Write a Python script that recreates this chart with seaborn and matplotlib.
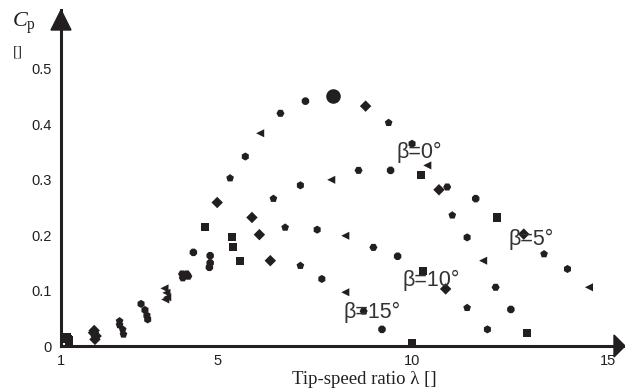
import matplotlib
matplotlib.use("Agg")
import matplotlib.pyplot as plt
import seaborn as sns
import pandas as pd
from matplotlib.patches import Polygon

# ---------------- data ----------------
lam_b0 = [1.15, 1.85, 2.50, 3.05, 3.65, 4.10, 4.39, 4.69, 5.00, 5.33, 5.72, 6.10, 6.62,
          7.26, 7.97, 8.80, 9.39, 9.99, 10.38, 10.89, 11.62, 12.17, 12.85, 13.37, 13.97, 14.52]
cp_b0 = [0.016, 0.028, 0.045, 0.076, 0.104, 0.130, 0.169, 0.214, 0.259, 0.303, 0.342, 0.384, 0.420,
         0.442, 0.452, 0.433, 0.403, 0.365, 0.326, 0.287, 0.266, 0.232, 0.202, 0.166, 0.139, 0.106]

lam_b5 = [1.12, 1.83, 2.50, 3.15, 3.70, 4.22, 4.82, 5.38, 5.89, 6.44, 7.13, 7.92, 8.62,
          9.44, 10.21, 10.68, 11.02, 11.40, 11.81, 12.13, 12.52, 12.94]
cp_b5 = [0.013, 0.024, 0.038, 0.065, 0.096, 0.130, 0.163, 0.196, 0.232, 0.266, 0.290, 0.300, 0.317,
         0.317, 0.308, 0.282, 0.236, 0.196, 0.154, 0.106, 0.066, 0.024]

lam_b10 = [1.18, 1.90, 2.58, 3.20, 3.72, 4.26, 4.82, 5.40, 6.08, 6.74, 7.56, 8.28, 9.00,
           9.62, 10.27, 10.85, 11.40, 11.92]
cp_b10 = [0.012, 0.018, 0.030, 0.055, 0.088, 0.126, 0.150, 0.178, 0.201, 0.214, 0.210, 0.199, 0.178,
          0.162, 0.136, 0.103, 0.069, 0.030]

lam_b15 = [1.20, 1.87, 2.60, 3.22, 3.67, 4.12, 4.80, 5.59, 6.36, 7.13, 7.68, 8.28, 8.75, 9.22, 9.99]
cp_b15 = [0.010, 0.012, 0.021, 0.048, 0.084, 0.123, 0.142, 0.154, 0.154, 0.145, 0.121, 0.097,
          0.063, 0.030, 0.005]

beta_labels = ["β=0°", "β=5°", "β=10°", "β=15°"]
label_lam = [10.17, 13.04, 10.47, 8.96]
label_cp = [0.350, 0.193, 0.119, 0.061]

x_ticks = [1, 5, 10, 15]
y_ticks = [0, 0.1, 0.2, 0.3, 0.4, 0.5]
y_tick_labels = ["0", "0.1", "0.2", "0.3", "0.4", "0.5"]

# ---------------- build table ----------------
shape_cycle = ["s", "D", "p", "h", "<", "H", "8"]
rows = []
for name, lams, cps in [("0", lam_b0, cp_b0), ("5", lam_b5, cp_b5),
                        ("10", lam_b10, cp_b10), ("15", lam_b15, cp_b15)]:
    for i, (l, c) in enumerate(zip(lams, cps)):
        rows.append({"lam": l, "cp": c, "beta": name, "shape": str(i % len(shape_cycle))})
df = pd.DataFrame(rows)
marker_map = {str(i): m for i, m in enumerate(shape_cycle)}

imax = cp_b0.index(max(cp_b0))
peak = pd.DataFrame({"lam": [lam_b0[imax]], "cp": [cp_b0[imax]]})

# ---------------- style ----------------
sns.set_theme(style="white")
plt.rcParams["font.family"] = ["Liberation Sans", "DejaVu Sans"]
plt.rcParams["mathtext.fontset"] = "custom"
plt.rcParams["mathtext.rm"] = "Liberation Serif"
plt.rcParams["mathtext.it"] = "Liberation Serif:italic"

ink = "#231f20"
W, H = 625, 390
fig = plt.figure(figsize=(W / 100, H / 100), dpi=100)
left_px, bottom_px, right_px, top_px = 61, 346, 625, 10
ax = fig.add_axes([left_px / W, (H - bottom_px) / H,
                   (right_px - left_px) / W, (bottom_px - top_px) / H])

px_per_x = (607.7 - 61) / 14.0
px_per_y = 554.0
ax.set_xlim(1, 1 + (right_px - left_px) / px_per_x)
ax.set_ylim(0, (bottom_px - top_px) / px_per_y)

sns.scatterplot(data=df, x="lam", y="cp", style="shape", markers=marker_map,
                color=ink, s=34, linewidth=0, legend=False, ax=ax, zorder=3)
sns.scatterplot(data=peak, x="lam", y="cp", marker="o", color=ink, s=110,
                linewidth=0, legend=False, ax=ax, zorder=4)

for txt, lx, ly in zip(beta_labels, label_lam, label_cp):
    ax.text(lx, ly, txt, ha="center", va="center", fontsize=15.5, color="#333333",
            family=["Liberation Sans", "DejaVu Sans"], zorder=5)

# axes
for s in ["top", "right"]:
    ax.spines[s].set_visible(False)
for s in ["left", "bottom"]:
    ax.spines[s].set_linewidth(2.2)
    ax.spines[s].set_color(ink)
ax.set_xticks(x_ticks)
ax.set_xticklabels([str(t) for t in x_ticks])
ax.set_yticks(y_ticks)
ax.set_yticklabels(y_tick_labels)
ax.tick_params(axis="x", direction="inout", length=9, width=2.2, color=ink,
               labelsize=10.5, labelcolor=ink, pad=1)
ax.tick_params(axis="y", direction="out", length=5, width=2.2, color=ink,
               labelsize=10.5, labelcolor=ink, pad=2)
ax.set_xlabel("")
ax.set_ylabel("")
ax.grid(False)

# arrow heads
hw = 10 / (right_px - left_px)
yb = 1 - 20 / (bottom_px - top_px)
ax.add_patch(Polygon([(0, 1), (-hw, yb), (hw, yb)], closed=True, transform=ax.transAxes,
                     clip_on=False, color=ink, zorder=6))
hh = 11 / (bottom_px - top_px)
xb = 1 - 11 / (right_px - left_px)
ax.add_patch(Polygon([(1, 0), (xb, hh), (xb, -hh)], closed=True, transform=ax.transAxes,
                     clip_on=False, color=ink, zorder=6))

# axis labels
fig.text(12 / W, 1 - 27 / H, r"$C_{\mathrm{p}}$", ha="left", va="baseline",
         fontsize=16, color=ink)
fig.text(13 / W, 1 - 52.5 / H, "[]", ha="left", va="center", fontsize=11,
         family="Liberation Serif", color=ink)
fig.text(364 / W, 1 - 379.5 / H, "Tip-speed ratio λ []", ha="center", va="center",
         fontsize=13.5, family="Liberation Serif", color=ink)

fig.savefig("out.png", dpi=100)
